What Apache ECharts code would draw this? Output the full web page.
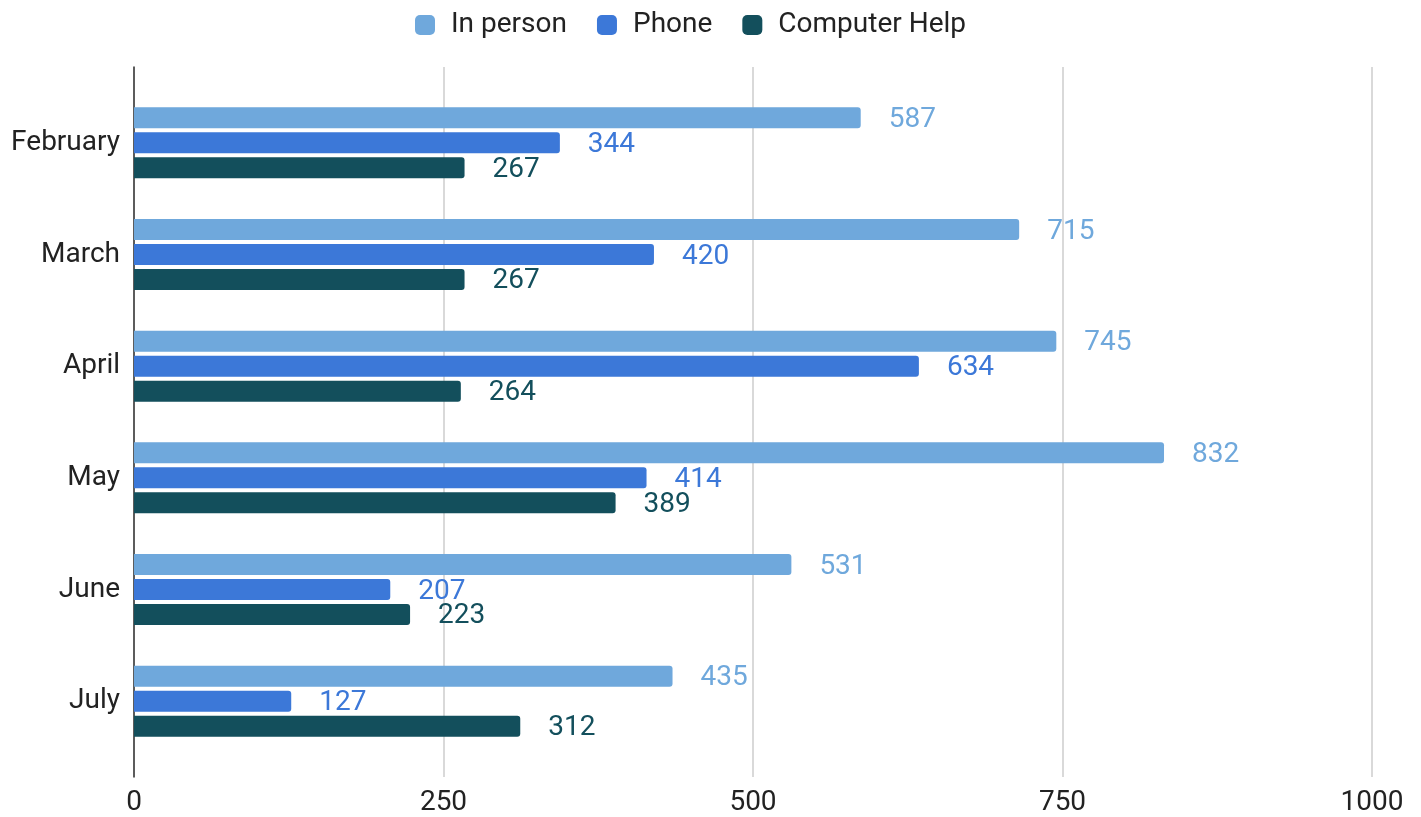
<!DOCTYPE html>
<html>
<head>
<meta charset="utf-8">
<script src="https://cdn.jsdelivr.net/npm/echarts@6/dist/echarts.min.js"></script>
<style>
  html, body { margin: 0; padding: 0; background: #fff; }
  #chart { width: 1421px; height: 817px; }
</style>
</head>
<body>
<div id="chart"></div>
<script>
// Monthly help requests by channel
const months = ['February', 'March', 'April', 'May', 'June', 'July'];
const inPerson = [587, 715, 745, 832, 531, 435];
const phone = [344, 420, 634, 414, 207, 127];
const computerHelp = [267, 267, 264, 389, 223, 312];
const xTicks = [0, 250, 500, 750, 1000];

const colors = ['#6fa8dc', '#3c78d8', '#134f5c'];
const FONT = 'Roboto, "Noto Sans", sans-serif';
const FS = 28;

function barSeries(name, data, color) {
  return {
    name: name,
    type: 'bar',
    xAxisIndex: 0,
    yAxisIndex: 0,
    data: data,
    barWidth: 21,
    barGap: '19%',
    itemStyle: { color: color, borderRadius: [0, 3, 3, 0] },
    label: {
      show: true,
      position: 'right',
      distance: 28,
      offset: [0, 2],
      color: color,
      fontFamily: FONT,
      fontSize: FS
    }
  };
}

const chart = echarts.init(document.getElementById('chart'), null, { renderer: 'canvas' });
chart.setOption({
  animation: false,
  legend: {
    top: 6,
    left: 410,
    itemWidth: 20,
    itemHeight: 20,
    itemGap: 30,
    icon: 'roundRect',
    textStyle: { fontFamily: FONT, fontSize: FS, color: '#222', padding: [0, 0, 0, 11] },
    data: ['In person', 'Phone', 'Computer Help']
  },
  grid: [
    // bars
    { left: 134, right: 49, top: 87, bottom: 60, containLabel: false },
    // frame: gridlines, value labels, left axis line
    { left: 134, right: 49, top: 67, bottom: 39, containLabel: false }
  ],
  xAxis: [
    {
      gridIndex: 0, type: 'value', min: xTicks[0], max: xTicks[xTicks.length - 1], interval: 250,
      axisLine: { show: false }, axisTick: { show: false }, axisLabel: { show: false }, splitLine: { show: false }
    },
    {
      gridIndex: 1, type: 'value', min: xTicks[0], max: xTicks[xTicks.length - 1], interval: 250,
      axisLine: { show: false }, axisTick: { show: false },
      axisLabel: { color: '#222', fontFamily: FONT, fontSize: FS, margin: 12, formatter: v => String(v) },
      splitLine: { show: true, lineStyle: { color: '#cccccc', width: 1.5 } }
    }
  ],
  yAxis: [
    {
      gridIndex: 0, type: 'category', data: months, inverse: true,
      axisLine: { show: false }, axisTick: { show: false },
      axisLabel: { color: '#222', fontFamily: FONT, fontSize: FS, margin: 14 }
    },
    {
      gridIndex: 1, type: 'value', min: 0, max: 1,
      axisLine: { show: true, lineStyle: { color: '#333', width: 1.5 } },
      axisTick: { show: false }, axisLabel: { show: false }, splitLine: { show: false }
    }
  ],
  series: [
    barSeries('In person', inPerson, colors[0]),
    barSeries('Phone', phone, colors[1]),
    barSeries('Computer Help', computerHelp, colors[2])
  ]
});
</script>
</body>
</html>
